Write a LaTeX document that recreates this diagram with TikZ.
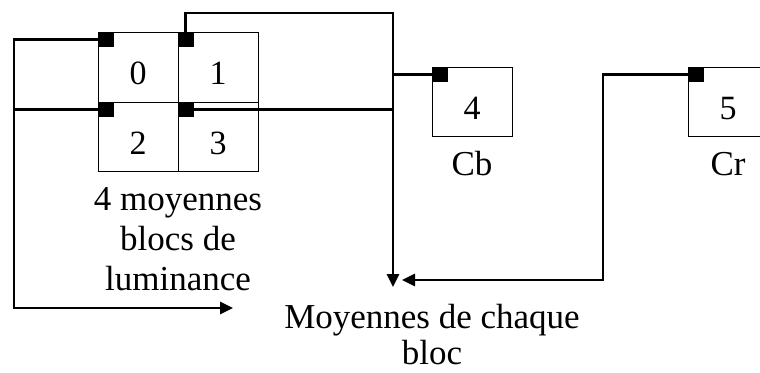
\documentclass[tikz,border=0pt]{standalone}
\usepackage{fontspec}
\setmainfont{Liberation Serif}
\usetikzlibrary{arrows.meta}

\begin{document}
\begin{tikzpicture}[x=1pt,y=-1pt,
    bloc/.style={draw,line width=0.8pt,minimum width=80pt,minimum height=70pt,inner sep=0pt,
      font=\fontsize{34}{40}\selectfont,text height=35pt,text depth=0pt},
    marque/.style={fill=black,minimum width=16pt,minimum height=15pt,inner sep=0pt,anchor=north west},
    fil/.style={line width=2.8pt},
    fleche/.style={fil,-{Triangle[length=13pt,width=12pt]}},
    texte/.style={align=center,anchor=base,inner sep=0pt,font=\fontsize{35}{40}\selectfont}]
    \useasboundingbox (0,0) rectangle (760,372);
    \clip (0,0) rectangle (760,372);
    % blocs de luminance
    \node[bloc] (b0) at (138,67) {0};
    \node[bloc] (b1) at (218,67) {1};
    \node[bloc,minimum height=69pt] (b2) at (138,136.5) {2};
    \node[bloc,minimum height=69pt] (b3) at (218,136.5) {3};
    % chrominance
    \node[bloc,minimum height=69pt] (b4) at (472,101.5) {4};
    \node[bloc,minimum height=69pt] (b5) at (728,101.5) {5};
    \node[marque] (m0) at (b0.north west) {};
    \node[marque] (m1) at (b1.north west) {};
    \node[marque] (m2) at (b2.north west) {};
    \node[marque] (m3) at (b3.north west) {};
    \node[marque] (m4) at (b4.north west) {};
    \node[marque] (m5) at (b5.north west) {};
    \node[texte] (cb) at (472,175) {Cb};
    \node[texte] (cr) at (728,175) {Cr};
    % la base d'un texte sur plusieurs lignes est sa derniere ligne
    \node[texte] (lum) at (178,290) {4 moyennes\\blocs de\\luminance};
    \node[texte,font=\fontsize{35}{36}\selectfont] (moy) at (432,364) {Moyennes de chaque\\bloc};
    \coordinate (e0) at (233,308);
    \coordinate (e1) at (393,287);
    \coordinate (e5) at (402,280);
    % connexions
    \draw[fil] (m2.west) -- ++(-84,0);
    \draw[fleche] (m0.west) -| (14,308) -- (e0);
    \draw[fil] (m3.east) -- ++(199,0);
    \draw[fil] (m4.west) -- ++(-39,0);
    \draw[fleche] (m1.north) |- (393,13) -- (e1);
    \draw[fleche] (m5.west) -| (603,280) -- (e5);
\end{tikzpicture}
\end{document}
